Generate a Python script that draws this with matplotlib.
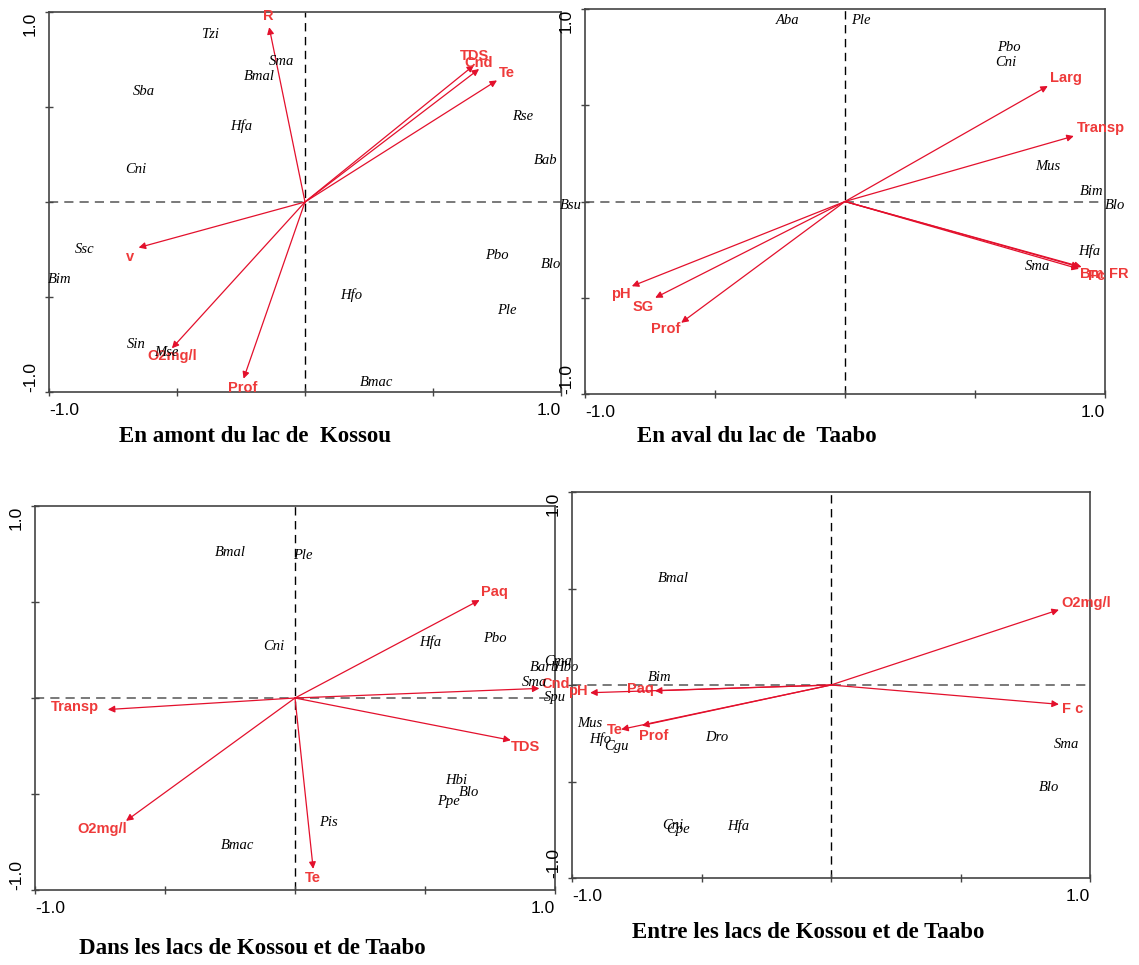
import matplotlib
matplotlib.use("Agg")
import matplotlib.pyplot as plt

W, H = 1139, 965

# ---- En amont du lac de Kossou ----
amont_env = ["R", "TDS", "Cnd", "Te", "v", "O2mg/l", "Prof"]
amont_env_x = [-0.14, 0.66, 0.68, 0.75, -0.65, -0.52, -0.24]
amont_env_y = [0.92, 0.72, 0.70, 0.64, -0.24, -0.77, -0.93]
amont_sp = ["Tzi", "Sma", "Bmal", "Sba", "Hfa", "Cni", "Rse", "Bab", "Bsu",
            "Ssc", "Bim", "Pbo", "Blo", "Hfo", "Ple", "Sin", "Mse", "Bmac"]
amont_sp_x = [-0.37, -0.09, -0.18, -0.63, -0.25, -0.66, 0.85, 0.94, 1.04,
              -0.86, -0.96, 0.75, 0.96, 0.18, 0.79, -0.66, -0.54, 0.28]
amont_sp_y = [0.88, 0.74, 0.66, 0.58, 0.40, 0.17, 0.45, 0.22, -0.02,
              -0.25, -0.41, -0.28, -0.33, -0.49, -0.57, -0.75, -0.79, -0.95]

# ---- En aval du lac de Taabo ----
aval_env = ["Larg", "Transp", "Bm", "Fc", "FR", "pH", "SG", "Prof"]
aval_env_x = [0.78, 0.88, 0.90, 0.90, 0.91, -0.82, -0.73, -0.63]
aval_env_y = [0.60, 0.34, -0.34, -0.35, -0.34, -0.44, -0.50, -0.63]
aval_sp = ["Aba", "Ple", "Pbo", "Cni", "Mus", "Bim", "Blo", "Hfa", "Sma"]
aval_sp_x = [-0.22, 0.06, 0.63, 0.62, 0.78, 0.95, 1.04, 0.94, 0.74]
aval_sp_y = [0.94, 0.94, 0.80, 0.72, 0.18, 0.05, -0.02, -0.26, -0.34]

# ---- Dans les lacs de Kossou et de Taabo ----
dans_env = ["Paq", "Cnd", "Transp", "TDS", "O2mg/l", "Te"]
dans_env_x = [0.71, 0.94, -0.72, 0.83, -0.65, 0.07]
dans_env_y = [0.51, 0.05, -0.06, -0.22, -0.64, -0.89]
dans_sp = ["Bmal", "Ple", "Cni", "Hfa", "Pbo", "Cma", "Barb", "Hbo", "Sma",
           "Spu", "Hbi", "Blo", "Ppe", "Pis", "Bmac"]
dans_sp_x = [-0.25, 0.03, -0.08, 0.52, 0.77, 1.01, 0.96, 1.04, 0.92,
             1.00, 0.62, 0.67, 0.59, 0.13, -0.22]
dans_sp_y = [0.76, 0.74, 0.27, 0.29, 0.31, 0.19, 0.16, 0.16, 0.08,
             0.00, -0.43, -0.49, -0.54, -0.65, -0.77]

# ---- Entre les lacs de Kossou et de Taabo ----
entre_env = ["O2mg/l", "F c", "Paq", "pH", "Te", "Prof"]
entre_env_x = [0.88, 0.88, -0.68, -0.93, -0.81, -0.73]
entre_env_y = [0.39, -0.10, -0.03, -0.04, -0.23, -0.21]
entre_sp = ["Bmal", "Bim", "Mus", "Hfo", "Cgu", "Dro", "Sma", "Blo", "Cni",
            "Cpe", "Hfa"]
entre_sp_x = [-0.61, -0.66, -0.93, -0.89, -0.83, -0.44, 0.91, 0.84, -0.61,
              -0.59, -0.36]
entre_sp_y = [0.55, 0.04, -0.20, -0.28, -0.32, -0.27, -0.31, -0.53, -0.73,
              -0.75, -0.73]

RED = "#e3102c"
LRED = "#ee3a3a"

fig = plt.figure(figsize=(W / 100, H / 100), dpi=100)


def px_rect(left, top, right, bottom):
    return [left / W, 1 - bottom / H, (right - left) / W, (bottom - top) / H]


def draw_panel(rect, title, title_xy, env, ex, ey, offs, sp, sx, sy):
    ax = fig.add_axes(px_rect(*rect))
    ax.set_xlim(-1, 1)
    ax.set_ylim(-1, 1)
    ax.patch.set_alpha(0)
    ax.axhline(0, color="#555555", ls=(0, (6, 4)), lw=1.1, zorder=1)
    ax.axvline(0, color="black", ls=(0, (6, 4)), lw=1.0, zorder=1)

    for name, x, y, (dx, dy) in zip(env, ex, ey, offs):
        ax.annotate("", xy=(x, y), xytext=(0, 0),
                    arrowprops=dict(arrowstyle="-|>", color=RED, lw=0.9,
                                    mutation_scale=10, shrinkA=0, shrinkB=0))
        ax.annotate(name, xy=(x, y), xytext=(dx, dy),
                    textcoords="offset pixels", ha="center", va="center",
                    color=LRED, fontweight="bold", fontsize=10.5,
                    family="Liberation Sans", annotation_clip=False)

    for name, x, y in zip(sp, sx, sy):
        ax.text(x, y, name, ha="center", va="center", fontsize=10.5,
                style="italic", family="Liberation Serif", clip_on=False)

    ticks = [-1, -0.5, 0, 0.5, 1]
    labels = ["-1.0", "", "", "", "1.0"]
    ax.set_xticks(ticks, labels)
    ax.set_yticks(ticks, labels)
    ax.tick_params(direction="inout", length=6, width=1, color="#444444",
                   labelsize=12.5, pad=5)
    for lbl in ax.get_xticklabels() + ax.get_yticklabels():
        lbl.set_family("Liberation Sans")
    xl = ax.get_xticklabels()
    xl[0].set_ha("left")
    xl[-1].set_ha("right")
    yl = ax.get_yticklabels()
    for lbl in yl:
        lbl.set_rotation(90)
    yl[0].set_va("bottom")
    yl[-1].set_va("top")
    for s in ax.spines.values():
        s.set_color("#444444")
        s.set_linewidth(1.2)

    fig.text(title_xy[0] / W, 1 - title_xy[1] / H, title, ha="center",
             va="center", fontsize=16.5, fontweight="bold",
             family="Liberation Serif")
    return ax


# label offsets (pixels) for the arrow names
amont_off = [(-1, 11), (1, 9), (0, 6), (10, 7), (-9, -9), (0, -8), (-1, -9)]
aval_off = [(18, 8), (27, 8), (13, -7), (18, -7), (37, -7), (-11, -8),
            (-12, -9), (-16, -6)]
dans_off = [(15, 8), (16, 4), (-33, 3), (15, -7), (-24, -8), (0, -9)]
entre_off = [(27, 7), (14, -5), (-14, 2), (-12, 2), (-6, -1), (12, -10)]

draw_panel((49, 12, 561, 392), "En amont du lac de  Kossou", (255, 437),
           amont_env, amont_env_x, amont_env_y, amont_off,
           amont_sp, amont_sp_x, amont_sp_y)
draw_panel((585, 9, 1105, 394), "En aval du lac de  Taabo", (757, 437),
           aval_env, aval_env_x, aval_env_y, aval_off,
           aval_sp, aval_sp_x, aval_sp_y)
draw_panel((35, 506, 555, 890), "Dans les lacs de Kossou et de Taabo",
           (252, 948), dans_env, dans_env_x, dans_env_y, dans_off,
           dans_sp, dans_sp_x, dans_sp_y)
draw_panel((572, 492, 1090, 878), "Entre les lacs de Kossou et de Taabo",
           (808, 932), entre_env, entre_env_x, entre_env_y, entre_off,
           entre_sp, entre_sp_x, entre_sp_y)

fig.savefig("out.png", dpi=100)
